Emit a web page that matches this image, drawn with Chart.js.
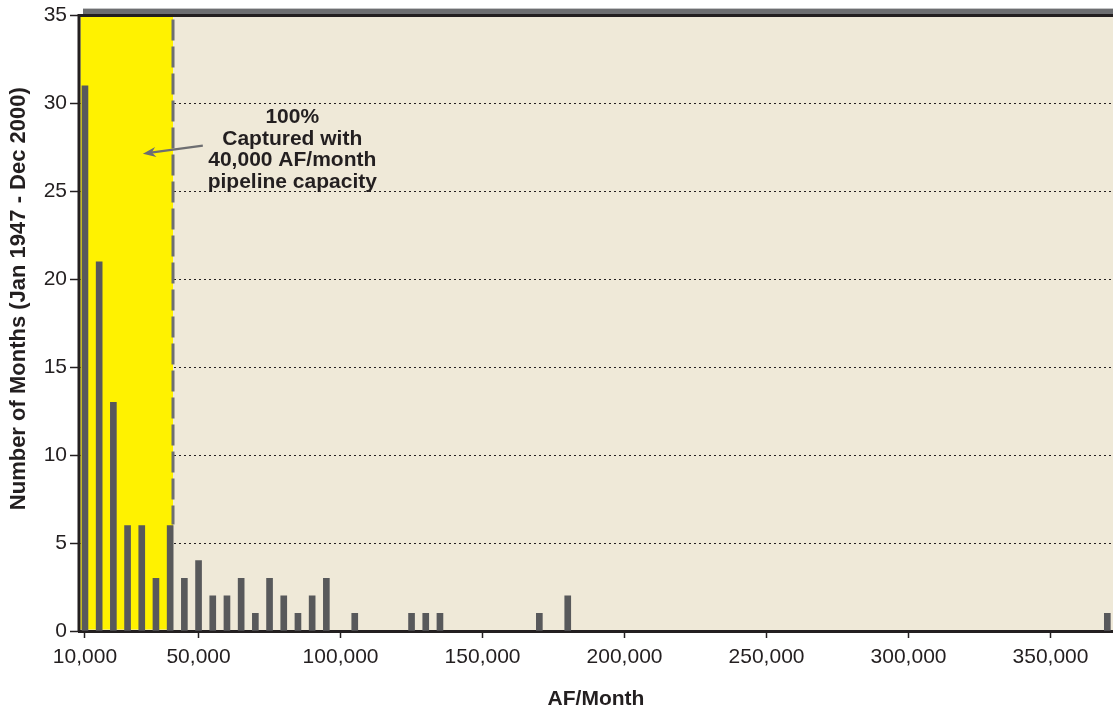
<!DOCTYPE html>
<html>
<head>
<meta charset="utf-8">
<script src="https://cdn.jsdelivr.net/npm/chart.js@4"></script>
<style>
  html, body { margin: 0; padding: 0; background: #ffffff; }
  #wrap { width: 1113px; height: 712px; position: relative; }
</style>
</head>
<body>
<div id="wrap"><canvas id="histChart"></canvas></div>
<script>
// Monthly flow bins (AF/month) and how many months fell in each
const afBins = [10000, 15000, 20000, 25000, 30000, 35000, 40000, 45000, 50000, 55000,
                60000, 65000, 70000, 75000, 80000, 85000, 90000, 95000, 105000,
                125000, 130000, 135000, 170000, 180000, 370000];
const monthCounts = [31, 21, 13, 6, 6, 3, 6, 3, 4, 2,
                     2, 3, 1, 3, 2, 1, 2, 3, 1,
                     1, 1, 1, 1, 2, 1];
const xTickValues = [10000, 50000, 100000, 150000, 200000, 250000, 300000, 350000];
const yTickValues = [0, 5, 10, 15, 20, 25, 30, 35];

// pipeline capacity shading (in AF/month) and the callout text
const capacity = 40000;
const capacityEdge = 41000;
const noteLines = ['100%', 'Captured with', '40,000 AF/month', 'pipeline capacity'];
const noteAnchor = { x: 83000, y: 29.2 };
const arrowFrom = { x: 51500, y: 27.6 };
const arrowTo = { x: 30400, y: 27.15 };
const yTitle = 'Number of Months (Jan 1947 - Dec 2000)';

const FONT = '"Liberation Sans", Arial, Helvetica, sans-serif';
const INK = '#231F20';
const GREY = '#6D6E71';

const decorPlugin = {
    id: 'decor',
    beforeDraw(chart) {
        const { ctx, chartArea: a } = chart;
        ctx.save();
        ctx.fillStyle = '#EFE9D8';
        ctx.fillRect(a.left, a.top, a.right - a.left, a.bottom - a.top);
        ctx.restore();
    },
    beforeDatasetsDraw(chart) {
        const { ctx, chartArea: a, scales } = chart;
        const xe = scales.x.getPixelForValue(capacityEdge);
        const stopY = scales.y.getPixelForValue(monthCounts[afBins.indexOf(capacity)]);
        ctx.save();
        ctx.fillStyle = '#FFF200';
        ctx.fillRect(a.left + 1.5, a.top, xe - a.left - 1.5, a.bottom - a.top - 1.5);
        // dashed capacity line
        ctx.strokeStyle = GREY;
        ctx.lineWidth = 3;
        ctx.setLineDash([21, 6]);
        ctx.beginPath();
        ctx.moveTo(xe, a.top + 4);
        ctx.lineTo(xe, stopY - 1);
        ctx.stroke();
        ctx.restore();
    },
    afterDraw(chart) {
        const { ctx, chartArea: a, scales } = chart;
        const x = scales.x, y = scales.y;
        ctx.save();
        // shadow band and top frame
        ctx.fillStyle = GREY;
        ctx.fillRect(a.left + 4, a.top - 7, a.right - a.left, 6);
        ctx.strokeStyle = INK;
        ctx.lineWidth = 3;
        ctx.beginPath();
        ctx.moveTo(a.left - 1.5, a.top);
        ctx.lineTo(a.right, a.top);
        ctx.moveTo(a.left, a.top);
        ctx.lineTo(a.left, a.bottom);
        ctx.stroke();

        // y axis title (sits a little above the plot centre in the original)
        ctx.fillStyle = INK;
        ctx.font = 'bold 22px ' + FONT;
        ctx.textAlign = 'center';
        ctx.textBaseline = 'middle';
        ctx.save();
        ctx.translate(19, a.top + (a.bottom - a.top) * 0.46);
        ctx.rotate(-Math.PI / 2);
        ctx.fillText(yTitle, 0, 0);
        ctx.restore();

        // callout text
        ctx.font = 'bold 21px ' + FONT;
        const nx = x.getPixelForValue(noteAnchor.x);
        const ny = y.getPixelForValue(noteAnchor.y);
        noteLines.forEach((t, i) => ctx.fillText(t, nx, ny + i * 21.5));

        // arrow
        const x1 = x.getPixelForValue(arrowFrom.x), y1 = y.getPixelForValue(arrowFrom.y);
        const x2 = x.getPixelForValue(arrowTo.x), y2 = y.getPixelForValue(arrowTo.y);
        const ang = Math.atan2(y2 - y1, x2 - x1);
        const c = Math.cos(ang), s = Math.sin(ang);
        ctx.strokeStyle = GREY;
        ctx.fillStyle = GREY;
        ctx.lineWidth = 2.2;
        ctx.beginPath();
        ctx.moveTo(x1, y1);
        ctx.lineTo(x2 - 8 * c, y2 - 8 * s);
        ctx.stroke();
        ctx.beginPath();
        ctx.moveTo(x2, y2);
        ctx.lineTo(x2 - 13 * c + 5 * s, y2 - 13 * s - 5 * c);
        ctx.lineTo(x2 - 9 * c, y2 - 9 * s);
        ctx.lineTo(x2 - 13 * c - 5 * s, y2 - 13 * s + 5 * c);
        ctx.closePath();
        ctx.fill();
        ctx.restore();
    }
};

new Chart(document.getElementById('histChart'), {
    type: 'bar',
    data: {
        datasets: [{
            label: 'Months',
            data: afBins.map((v, i) => ({ x: v, y: monthCounts[i] })),
            backgroundColor: '#58595B',
            barThickness: 6
        }]
    },
    options: {
        responsive: true,
        maintainAspectRatio: false,
        animation: false,
        layout: { padding: { top: 15, right: 0, left: 0, bottom: 0 } },
        plugins: {
            legend: { display: false },
            tooltip: { enabled: false }
        },
        scales: {
            x: {
                type: 'linear',
                min: 7900,
                max: 372000,
                offset: false,
                afterBuildTicks: s => { s.ticks = xTickValues.map(v => ({ value: v })); },
                afterFit: s => { s.height = 81; },
                grid: { drawOnChartArea: false, offset: false, tickLength: 7, tickColor: INK, tickWidth: 1.5 },
                border: { display: true, color: INK, width: 3 },
                ticks: {
                    color: INK,
                    padding: 7,
                    maxRotation: 0,
                    font: { family: FONT, size: 21 },
                    callback: v => v.toLocaleString('en-US')
                },
                title: {
                    display: true,
                    text: 'AF/Month',
                    color: INK,
                    font: { family: FONT, size: 21, weight: 'bold' },
                    padding: { top: 0, bottom: 0 }
                }
            },
            y: {
                min: 0,
                max: 35,
                afterBuildTicks: s => { s.ticks = yTickValues.map(v => ({ value: v })); },
                afterFit: s => { s.width = 79; },
                grid: {
                    color: c => (c.tick && (c.tick.value === 0 || c.tick.value === 35)) ? 'rgba(0,0,0,0)' : INK,
                    lineWidth: 1,
                    tickColor: INK,
                    tickBorderDash: [],
                    tickLength: 9,
                    tickWidth: 1.5
                },
                border: { display: false, color: INK, width: 3, dash: [2, 3] },
                ticks: {
                    color: INK,
                    padding: 3,
                    font: { family: FONT, size: 21 }
                },
                title: { display: false }
            }
        }
    },
    plugins: [decorPlugin]
});
</script>
</body>
</html>
